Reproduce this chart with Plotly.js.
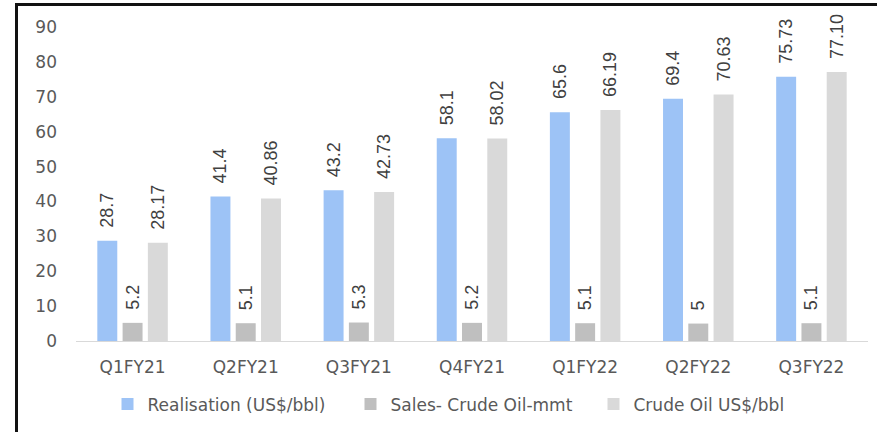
<!DOCTYPE html>
<html><head><meta charset="utf-8">
<script src="https://cdn.plot.ly/plotly-3.0.1.min.js"></script>
<style>
html,body{margin:0;padding:0;background:#fff;}
#frame{position:absolute;left:15px;top:3px;width:870px;height:440px;border-left:3px solid #111;border-top:3px solid #111;pointer-events:none;z-index:5;}
#chart{position:absolute;left:0;top:0;width:877px;height:432px;}
</style></head>
<body>
<div id="chart"></div>
<div id="frame"></div>
<script>
const categories = ["Q1FY21","Q2FY21","Q3FY21","Q4FY21","Q1FY22","Q2FY22","Q3FY22"];
const realisation = [28.7, 41.4, 43.2, 58.1, 65.6, 69.4, 75.73];
const realisationText = ["28.7","41.4","43.2","58.1","65.6","69.4","75.73"];
const salesCrude = [5.2, 5.1, 5.3, 5.2, 5.1, 5, 5.1];
const salesText = ["5.2","5.1","5.3","5.2","5.1","5","5.1"];
const crudeOil = [28.17, 40.86, 42.73, 58.02, 66.19, 70.63, 77.10];
const crudeText = ["28.17","40.86","42.73","58.02","66.19","70.63","77.10"];
const seriesNames = ["Realisation (US$/bbl)","Sales- Crude Oil-mmt","Crude Oil US$/bbl"];
const yTicks = [0,10,20,30,40,50,60,70,80,90];

const labelFont = {family:"Liberation Sans Narrow, Arial Narrow, Liberation Sans, sans-serif", size:18, color:"#404040"};
function mk(name, y, text, color){
  return {type:"bar", name:name, x:categories, y:y,
    text:text.map(t => "\u00A0\u00A0" + t), textposition:"outside", constraintext:"none",
    textangle:-90, textfont:labelFont, cliponaxis:false, marker:{color:color}, hoverinfo:"none"};
}
const data = [
  mk(seriesNames[0], realisation, realisationText, "#9DC3F6"),
  mk(seriesNames[1], salesCrude, salesText, "#BFBFBF"),
  mk(seriesNames[2], crudeOil, crudeText, "#D9D9D9")
];
const layout = {
  width:877, height:432,
  margin:{l:76, r:9, t:27, b:91, autoexpand:false},
  paper_bgcolor:"rgba(0,0,0,0)", plot_bgcolor:"rgba(0,0,0,0)",
  barmode:"group", bargap:0.33, bargroupgap:0.21,
  font:{family:"DejaVu Sans, sans-serif", color:"#595959", size:17},
  xaxis:{showline:true, linecolor:"#D9D9D9", linewidth:1, ticks:"", showgrid:false,
    tickfont:{size:17, color:"#595959"}, ticklabelstandoff:11, automargin:false},
  yaxis:{range:[0,90], tickvals:yTicks, showgrid:false, zeroline:false, showline:false,
    tickfont:{size:17, color:"#595959"}, ticks:"", ticklabelstandoff:18, automargin:false},
  legend:{orientation:"h", x:0.5, xanchor:"center", y:-0.145, yanchor:"top",
    font:{size:17, color:"#595959"}, itemwidth:30, traceorder:"normal",
    entrywidth:198, entrywidthmode:"pixels"},
  showlegend:true
};
Plotly.newPlot("chart", data, layout, {staticPlot:true, displayModeBar:false});
</script>
</body></html>
